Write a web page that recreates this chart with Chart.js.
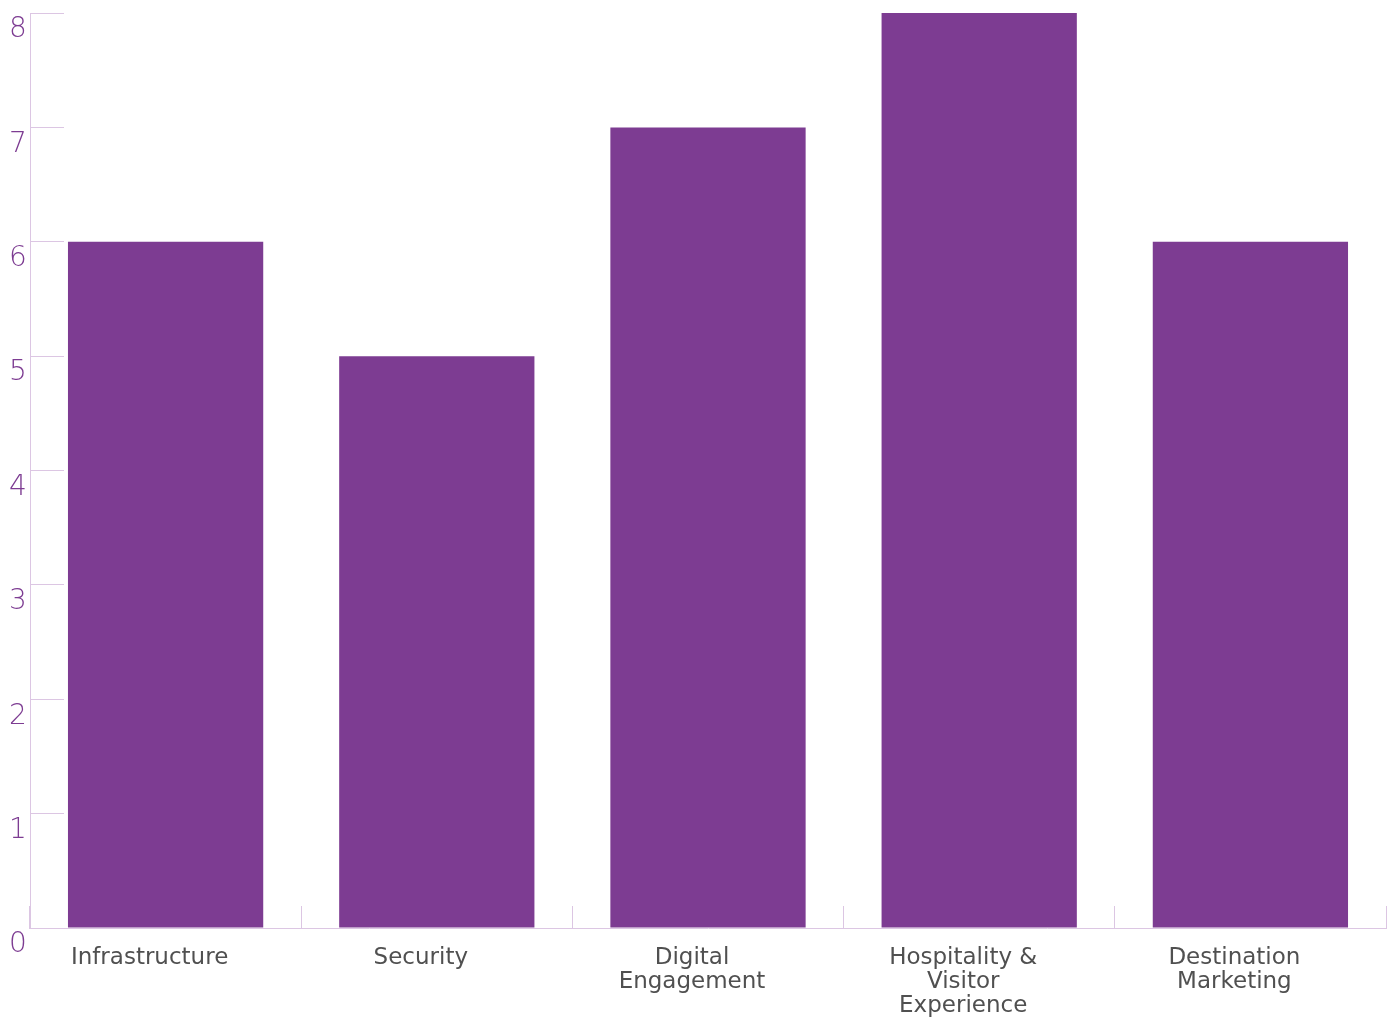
<!DOCTYPE html>
<html>
<head>
<meta charset="utf-8">
<script src="https://cdn.jsdelivr.net/npm/chart.js@4/dist/chart.umd.min.js"></script>
<style>
  html, body { margin: 0; padding: 0; background: #fff; }
  #wrap { width: 1395px; height: 1019px; }
</style>
</head>
<body>
<div id="wrap"><canvas id="scoreChart"></canvas></div>
<script>
var categories = [
	"Infrastructure",
	"Security",
	["Digital", "Engagement"],
	["Hospitality &", "Visitor", "Experience"],
	["Destination", "Marketing"]
];
var scores = [6, 5, 7, 8, 6];
var yTicks = [0, 1, 2, 3, 4, 5, 6, 7, 8];

var barColor = '#7d3c92',
lineColor = '#dcc6e3',
tickColor = '#7d3c92',
labelColor = '#505050';

var ctx = document.getElementById('scoreChart').getContext('2d');
var chart = new Chart(ctx, {
    type: 'bar',
    data: {
        labels: categories,
        datasets: [{
            label: 'Score',
            data: scores,
            backgroundColor: barColor,
            borderWidth: 0
        }]
    },
    options: {
        responsive: true,
        maintainAspectRatio: false,
        animation: false,
        layout: { padding: { left: 9, right: 9, top: 0, bottom: 0 } },
        plugins: {
            legend: { display: false },
            tooltip: { enabled: false }
        },
        scales: {
            x: {
                grid: {
                    color: lineColor,
                    drawOnChartArea: false,
                    tickLength: -22
                },
                border: { color: lineColor },
                ticks: {
                    color: labelColor,
                    padding: 40,
                    labelOffset: -16,
                    maxRotation: 0,
                    autoSkip: false,
                    font: { family: 'DejaVu Sans', size: 23, lineHeight: 24 / 23 }
                },
                afterFit: function(scale) { scale.height = 91; }
            },
            y: {
                min: yTicks[0],
                max: yTicks[yTicks.length - 1],
                afterBuildTicks: function(scale) {
                    scale.ticks = yTicks.map(function(v) { return { value: v }; });
                },
                grid: {
                    color: lineColor,
                    drawOnChartArea: false,
                    tickLength: -34
                },
                border: { color: lineColor },
                ticks: {
                    color: tickColor,
                    crossAlign: 'far',
                    labelOffset: 17,
                    padding: 0,
                    font: { family: 'DejaVu Sans', size: 28, weight: 300, lineHeight: 1 }
                },
                afterFit: function(scale) { scale.width = 21; scale.paddingTop = 13; }
            }
        }
    }
});
</script>
</body>
</html>
